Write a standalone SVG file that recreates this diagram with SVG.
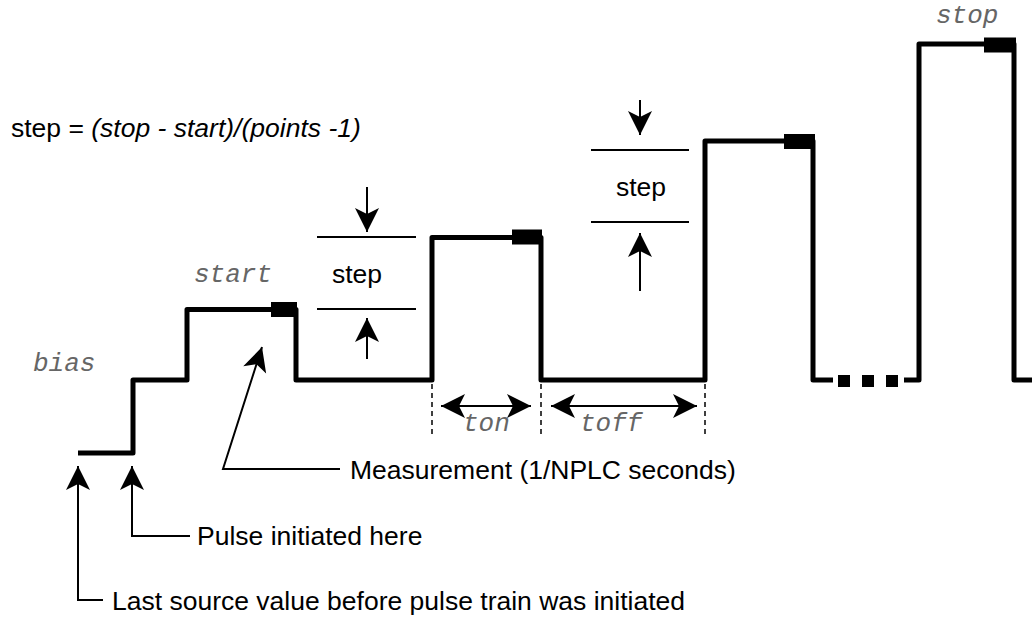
<svg xmlns="http://www.w3.org/2000/svg" width="1032" height="618" viewBox="0 0 1032 618">
<defs>
<style>
.wave{fill:none;stroke:#000;stroke-width:5;stroke-linejoin:round;stroke-linecap:butt}
.thin{fill:none;stroke:#000;stroke-width:2}
.dash{fill:none;stroke:#000;stroke-width:1.5;stroke-dasharray:5,4}
.lbl{font-family:"Liberation Sans",Arial,sans-serif;font-size:26.5px;fill:#000}
.mono{font-family:"Liberation Mono","Courier New",monospace;font-style:italic;font-size:26px;fill:#666}
.blk{fill:#000}
</style>
<marker id="ah" markerUnits="userSpaceOnUse" markerWidth="28" markerHeight="28" viewBox="-26 -14 28 28" refX="0" refY="0" orient="auto-start-reverse">
<path d="M0,0 L-24,-12 L-18,0 L-24,12 Z" fill="#000"/>
</marker>
</defs>
<rect width="1032" height="618" fill="#fff"/>

<g id="waveform">
<path class="wave" d="M78,453 H133 V380 H187 V309.5 H296 V380 H432 V237.5 H541 V380 H705 V141 H813 V380 H833"/>
<rect class="blk" x="838" y="375" width="12" height="12"/>
<rect class="blk" x="862" y="375" width="12" height="12"/>
<rect class="blk" x="886" y="375" width="12" height="12"/>
<path class="wave" d="M904,380 H919 V44 H1014 V380 H1032"/>
<rect class="blk" x="271" y="302" width="26" height="15"/>
<rect class="blk" x="512" y="229.5" width="30" height="15"/>
<rect class="blk" x="784" y="134" width="31" height="15"/>
<rect class="blk" x="984" y="37.5" width="32" height="15"/>
</g>

<g id="step-marker-1">
<line class="thin" x1="317" y1="237" x2="416" y2="237"/>
<line class="thin" x1="317" y1="309" x2="416" y2="309"/>
<text class="lbl" x="357" y="283" text-anchor="middle">step</text>
</g>
<g id="step-marker-2">
<line class="thin" x1="591" y1="150" x2="689" y2="150"/>
<line class="thin" x1="591" y1="222" x2="689" y2="222"/>
<text class="lbl" x="641" y="196" text-anchor="middle">step</text>
</g>

<g id="labels">
<text class="mono" x="33" y="371">bias</text>
<text class="mono" x="194" y="282">start</text>
<text class="mono" x="936" y="23">stop</text>
<text class="mono" x="463" y="431">ton</text>
<text class="mono" x="580" y="431">toff</text>
<text class="lbl" x="11" y="137">step = <tspan font-style="italic">(stop - start)/(points -1)</tspan></text>
</g>

<g id="annotation-measurement">
<text class="lbl" x="350" y="479">Measurement (1/NPLC seconds)</text>
</g>
<g id="annotation-pulse">
<text class="lbl" x="197" y="545">Pulse initiated here</text>
</g>
<g id="annotation-last">
<text class="lbl" x="112" y="610">Last source value before pulse train was initiated</text>
</g>

<g id="connectors">
<line class="dash" x1="432" y1="384" x2="432" y2="434"/>
<line class="dash" x1="541" y1="384" x2="541" y2="434"/>
<line class="dash" x1="705" y1="384" x2="705" y2="434"/>
<line class="thin" x1="441" y1="406" x2="531" y2="406" marker-start="url(#ah)" marker-end="url(#ah)"/>
<line class="thin" x1="551" y1="406" x2="697" y2="406" marker-start="url(#ah)" marker-end="url(#ah)"/>
<line class="thin" x1="367" y1="187" x2="367" y2="232" marker-end="url(#ah)"/>
<line class="thin" x1="367" y1="359" x2="367" y2="318" marker-end="url(#ah)"/>
<line class="thin" x1="640" y1="100" x2="640" y2="135" marker-end="url(#ah)"/>
<line class="thin" x1="640" y1="291" x2="640" y2="233" marker-end="url(#ah)"/>
<polyline class="thin" points="340,469 223,469 262,347" marker-end="url(#ah)"/>
<polyline class="thin" points="190,536 132,536 132,466" marker-end="url(#ah)"/>
<polyline class="thin" points="103,600 78,600 78,466" marker-end="url(#ah)"/>
</g>
</svg>
